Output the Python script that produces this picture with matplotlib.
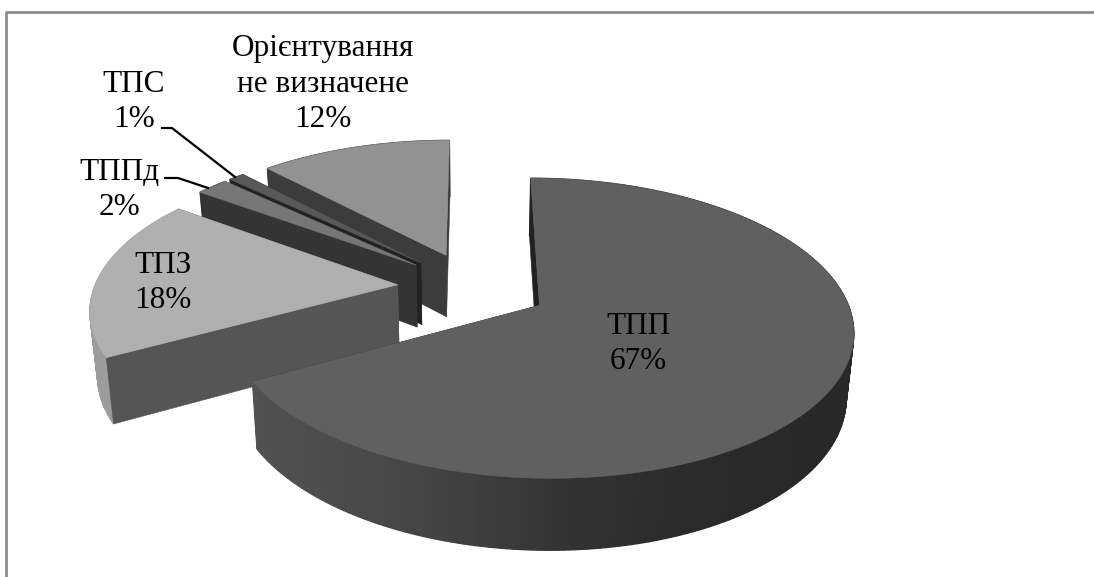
import numpy as np
import matplotlib
matplotlib.use("Agg")
import matplotlib.pyplot as plt

plt.rcParams['font.family'] = ['Liberation Serif', 'DejaVu Serif']

# percent per slice, clockwise from 12 o'clock
names = ["ТПП", "ТПЗ", "ТППд", "ТПС", "Орієнтування\nне визначене"]
values = [67, 18, 2, 1, 12]

top_colors = ["#606060", "#b0b0b0", "#767676", "#585858", "#929292"]
wall_colors = ["#222222", "#555555", "#343434", "#222222", "#3c3c3c"]
side_colors = ["#2a2a2a", "#9c9c9c", "#343434", "#222222", "#3c3c3c"]

# label centres in pixels
label_x = [638, 163, 119, 134, 323]
label_y = [344, 283, 190, 102, 84]

# projection of the pie, fitted to the picture
CX, CY = 473, 287
RX, RY = 303, 141
PERSP = 0.15
DEPTH = 63
SHRINK = 0.02
EXPLODE = 0.25


def project(u, v, low=False):
    s = 1 / (1 + PERSP * v)
    k = 1 - SHRINK if low else 1
    x = CX + RX * u * s * k
    y = CY - RY * v * s * k
    if low:
        y = y + DEPTH * s
    return x, y


def poly(ax, xs, ys, color, lw=0.4):
    ax.fill(xs, ys, facecolor=color, edgecolor=color, linewidth=lw)


def wall(ax, ou, ov, ang, color):
    eu, ev = ou + np.sin(ang), ov + np.cos(ang)
    x1, y1 = project(ou, ov)
    x2, y2 = project(eu, ev)
    x3, y3 = project(eu, ev, low=True)
    x4, y4 = project(ou, ov, low=True)
    poly(ax, [x1, x2, x3, x4], [y1, y2, y3, y4], color)


def side_shade(i, x):
    # only the big slice has a visible gradient on its rim
    if i == 0:
        g = np.interp(x, [255, 420, 570, 700, 850], [0.32, 0.27, 0.2, 0.165, 0.155])
        return (g, g, g)
    return side_colors[i]


def draw_slice(ax, i, start, end):
    mid = (start + end) / 2
    ou = EXPLODE * np.sin(mid)
    ov = EXPLODE * np.cos(mid)
    t = np.linspace(start, end, max(8, int(np.degrees(end - start))))
    u = ou + np.sin(t)
    v = ov + np.cos(t)

    wall(ax, ou, ov, end, wall_colors[i])

    xt, yt = project(u, v)
    xb, yb = project(u, v, low=True)
    for j in range(len(t) - 1):
        poly(ax, [xt[j], xt[j + 1], xb[j + 1], xb[j]],
             [yt[j], yt[j + 1], yb[j + 1], yb[j]], side_shade(i, xt[j]), lw=0.9)

    wall(ax, ou, ov, start, wall_colors[i])

    ax_, ay_ = project(ou, ov)
    poly(ax, np.r_[ax_, xt], np.r_[ay_, yt], top_colors[i])


fig = plt.figure(figsize=(10.94, 5.77), dpi=100)
ax = fig.add_axes([0, 0, 1, 1])
ax.set_xlim(0, 1094)
ax.set_ylim(577, 0)
ax.axis('off')

# frame of the chart area, only the top and left edges show
ax.plot([6, 6, 1100], [580, 12, 12], color="#8c8c8c", linewidth=2.0)

angles = np.cumsum([0] + values) / sum(values) * 2 * np.pi
# back slices first so the front ones cover them
for i in [4, 3, 2, 1, 0]:
    draw_slice(ax, i, angles[i], angles[i + 1])

for i, name in enumerate(names):
    ax.text(label_x[i], label_y[i], f"{name}\n{values[i]}%", ha='center', va='center',
            fontsize=22.5, color='black', linespacing=1.3)

# leader lines
ax.plot([162, 172, 235], [128, 128, 177], color='black', linewidth=1.6)
ax.plot([165, 178, 208], [178, 178, 188], color='black', linewidth=1.6)

fig.savefig("out.png", dpi=100)
